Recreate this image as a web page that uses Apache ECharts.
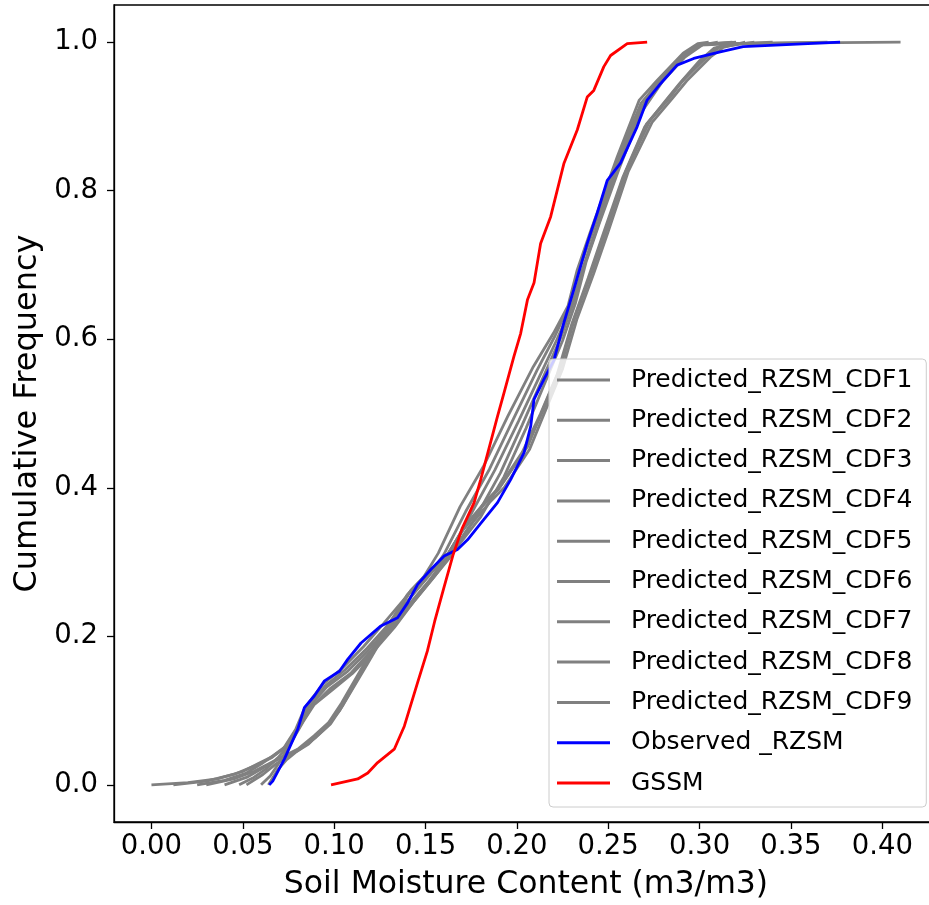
<!DOCTYPE html>
<html>
<head>
<meta charset="utf-8">
<script src="https://cdn.jsdelivr.net/npm/echarts@6/dist/echarts.min.js"></script>
<style>
  html, body { margin: 0; padding: 0; background: #fff; }
  #main { width: 929px; height: 905px; }
</style>
</head>
<body>
<div id="main"></div>
<script>
// CDF curves: [soil moisture, cumulative frequency]
var cdf1 = [[0.000,0.000],[0.020,0.003],[0.036,0.008],[0.050,0.018],[0.058,0.028],[0.066,0.038],[0.072,0.048],[0.079,0.075],[0.084,0.104],[0.094,0.136],[0.104,0.156],[0.116,0.186],[0.127,0.217],[0.138,0.249],[0.149,0.280],[0.157,0.312],[0.169,0.375],[0.182,0.430],[0.195,0.496],[0.209,0.563],[0.220,0.608],[0.228,0.645],[0.233,0.693],[0.240,0.743],[0.255,0.846],[0.267,0.922],[0.277,0.949],[0.291,0.985],[0.299,0.998],[0.305,1.000]];
var cdf2 = [[0.012,0.000],[0.030,0.005],[0.045,0.014],[0.057,0.026],[0.066,0.037],[0.073,0.050],[0.080,0.078],[0.085,0.106],[0.095,0.133],[0.106,0.155],[0.118,0.184],[0.129,0.214],[0.140,0.247],[0.151,0.279],[0.160,0.310],[0.172,0.368],[0.185,0.425],[0.198,0.492],[0.211,0.558],[0.221,0.605],[0.229,0.648],[0.235,0.700],[0.242,0.748],[0.256,0.846],[0.268,0.918],[0.279,0.950],[0.293,0.984],[0.301,0.997],[0.318,1.000]];
var cdf3 = [[0.025,0.000],[0.040,0.006],[0.052,0.016],[0.060,0.028],[0.067,0.040],[0.074,0.053],[0.081,0.080],[0.086,0.104],[0.096,0.132],[0.107,0.152],[0.119,0.182],[0.130,0.212],[0.141,0.243],[0.152,0.275],[0.162,0.308],[0.175,0.365],[0.188,0.424],[0.201,0.490],[0.213,0.553],[0.222,0.600],[0.230,0.645],[0.236,0.695],[0.243,0.745],[0.253,0.820],[0.264,0.895],[0.275,0.940],[0.288,0.975],[0.298,0.995],[0.310,1.000]];
var cdf4 = [[0.030,0.000],[0.045,0.008],[0.056,0.018],[0.064,0.028],[0.070,0.036],[0.075,0.042],[0.080,0.048],[0.089,0.066],[0.097,0.084],[0.104,0.110],[0.117,0.165],[0.126,0.203],[0.135,0.235],[0.142,0.262],[0.153,0.290],[0.162,0.310],[0.172,0.350],[0.183,0.382],[0.191,0.402],[0.206,0.456],[0.215,0.510],[0.224,0.563],[0.232,0.631],[0.241,0.690],[0.249,0.747],[0.260,0.828],[0.273,0.895],[0.284,0.926],[0.291,0.949],[0.304,0.980],[0.311,0.994],[0.322,0.998],[0.360,0.999],[0.410,1.000]];
var cdf5 = [[0.048,0.000],[0.056,0.010],[0.063,0.022],[0.069,0.036],[0.075,0.052],[0.082,0.082],[0.088,0.106],[0.098,0.130],[0.109,0.150],[0.120,0.180],[0.131,0.210],[0.142,0.242],[0.153,0.275],[0.163,0.305],[0.178,0.362],[0.191,0.420],[0.203,0.485],[0.215,0.552],[0.224,0.602],[0.231,0.650],[0.237,0.700],[0.244,0.750],[0.254,0.822],[0.266,0.900],[0.278,0.945],[0.290,0.978],[0.300,0.996],[0.340,1.000]];
var cdf6 = [[0.040,0.000],[0.052,0.010],[0.062,0.024],[0.069,0.034],[0.076,0.042],[0.082,0.050],[0.090,0.064],[0.098,0.082],[0.105,0.108],[0.118,0.162],[0.127,0.200],[0.136,0.232],[0.144,0.260],[0.154,0.288],[0.163,0.308],[0.174,0.348],[0.185,0.380],[0.193,0.400],[0.207,0.452],[0.216,0.506],[0.225,0.560],[0.233,0.628],[0.242,0.688],[0.250,0.745],[0.261,0.826],[0.274,0.892],[0.285,0.924],[0.293,0.948],[0.306,0.980],[0.313,0.993],[0.325,1.000]];
var cdf7 = [[0.052,0.000],[0.061,0.014],[0.068,0.028],[0.074,0.038],[0.080,0.046],[0.087,0.058],[0.095,0.076],[0.103,0.100],[0.115,0.152],[0.125,0.195],[0.134,0.230],[0.141,0.258],[0.152,0.286],[0.161,0.306],[0.171,0.345],[0.182,0.378],[0.190,0.398],[0.204,0.450],[0.214,0.502],[0.223,0.556],[0.231,0.625],[0.240,0.685],[0.248,0.742],[0.259,0.822],[0.271,0.890],[0.282,0.922],[0.290,0.946],[0.302,0.978],[0.310,0.993],[0.330,1.000]];
var cdf8 = [[0.060,0.000],[0.065,0.012],[0.070,0.030],[0.076,0.055],[0.083,0.085],[0.089,0.108],[0.099,0.128],[0.110,0.150],[0.121,0.178],[0.133,0.212],[0.143,0.245],[0.154,0.278],[0.164,0.310],[0.180,0.360],[0.193,0.415],[0.205,0.480],[0.216,0.545],[0.225,0.598],[0.232,0.648],[0.238,0.705],[0.245,0.755],[0.256,0.830],[0.268,0.905],[0.280,0.948],[0.292,0.980],[0.302,0.997],[0.320,1.000]];
var cdf9 = [[0.064,0.000],[0.069,0.020],[0.074,0.034],[0.079,0.044],[0.086,0.055],[0.093,0.072],[0.101,0.095],[0.113,0.145],[0.123,0.190],[0.133,0.228],[0.140,0.256],[0.151,0.284],[0.161,0.305],[0.170,0.342],[0.181,0.375],[0.189,0.396],[0.203,0.448],[0.213,0.500],[0.222,0.552],[0.230,0.620],[0.239,0.682],[0.247,0.740],[0.258,0.818],[0.270,0.886],[0.281,0.920],[0.289,0.944],[0.300,0.975],[0.308,0.992],[0.318,0.998],[0.370,1.000]];
var observed = [[0.0645,0.000],[0.0664,0.005],[0.0728,0.035],[0.0801,0.075],[0.0837,0.104],[0.0892,0.120],[0.0947,0.140],[0.1029,0.153],[0.1074,0.169],[0.1147,0.191],[0.1256,0.214],[0.1347,0.225],[0.1402,0.245],[0.1457,0.270],[0.1529,0.290],[0.1602,0.308],[0.1675,0.317],[0.1730,0.330],[0.1802,0.352],[0.1894,0.380],[0.1966,0.411],[0.2039,0.447],[0.2076,0.483],[0.2094,0.519],[0.2148,0.546],[0.2203,0.572],[0.2257,0.622],[0.2312,0.667],[0.2385,0.729],[0.2440,0.770],[0.2495,0.814],[0.2567,0.837],[0.2658,0.886],[0.2713,0.922],[0.2786,0.944],[0.2877,0.969],[0.2968,0.978],[0.3113,0.987],[0.3239,0.994],[0.3769,1.000]];
var gssm = [[0.0983,0.000],[0.1129,0.008],[0.1184,0.016],[0.1238,0.030],[0.1329,0.048],[0.1384,0.079],[0.1457,0.138],[0.1510,0.180],[0.1550,0.220],[0.1600,0.265],[0.1650,0.309],[0.1700,0.345],[0.1766,0.380],[0.1802,0.411],[0.1894,0.496],[0.1930,0.528],[0.1984,0.577],[0.2021,0.608],[0.2058,0.653],[0.2094,0.676],[0.2130,0.729],[0.2185,0.765],[0.2258,0.837],[0.2331,0.882],[0.2385,0.926],[0.2421,0.935],[0.2476,0.967],[0.2513,0.982],[0.2604,0.998],[0.2713,1.000]];

var predicted = [cdf1, cdf2, cdf3, cdf4, cdf5, cdf6, cdf7, cdf8, cdf9];
var xTicks = [0, 0.05, 0.10, 0.15, 0.20, 0.25, 0.30, 0.35, 0.40];
var yTicks = [0, 0.2, 0.4, 0.6, 0.8, 1.0];

var font = 'DejaVu Sans';
var series = predicted.map(function (d, i) {
    return {
        name: 'Predicted_RZSM_CDF' + (i + 1),
        type: 'line',
        data: d,
        showSymbol: false,
        color: '#808080',
        lineStyle: { width: 2.8 }
    };
});
series.push({ name: 'Observed _RZSM', type: 'line', data: observed, showSymbol: false, color: '#0000ff', lineStyle: { width: 2.8 } });
series.push({ name: 'GSSM', type: 'line', data: gssm, showSymbol: false, color: '#ff0000', lineStyle: { width: 2.8 } });

var chart = echarts.init(document.getElementById('main'));
chart.setOption({
    animation: false,
    backgroundColor: '#fff',
    textStyle: { fontFamily: font },
    grid: {
        left: 114, top: 5, width: 824, height: 817,
        show: true, borderColor: '#000', borderWidth: 1.3,
        outerBoundsMode: 'none'
    },
    legend: {
        orient: 'vertical',
        left: 549, top: 359,
        icon: 'rect',
        itemWidth: 53, itemHeight: 3,
        itemGap: 10.3,
        padding: [6, 14, 9, 8],
        selectedMode: false,
        backgroundColor: 'rgba(255,255,255,0.8)',
        borderColor: '#cccccc', borderWidth: 1, borderRadius: 4,
        textStyle: { fontFamily: font, fontSize: 25, color: '#000', lineHeight: 30, padding: [0, 0, 0, 16] }
    },
    xAxis: {
        type: 'value',
        min: -0.0205, max: 0.4305,
        name: 'Soil Moisture Content (m3/m3)',
        nameLocation: 'middle', nameGap: 47,
        nameTextStyle: { fontFamily: font, fontSize: 31.5, color: '#000' },
        axisLine: { show: true, onZero: false, lineStyle: { color: '#000', width: 1.3 } },
        axisTick: { show: true, length: 7, customValues: xTicks, lineStyle: { color: '#000', width: 1.3 } },
        axisLabel: {
            customValues: xTicks, margin: 11,
            fontFamily: font, fontSize: 27.5, color: '#000',
            formatter: function (v) { return v.toFixed(2); }
        },
        splitLine: { show: false }
    },
    yAxis: {
        type: 'value',
        min: -0.05, max: 1.05,
        name: 'Cumulative Frequency',
        nameLocation: 'middle', nameGap: 68,
        nameTextStyle: { fontFamily: font, fontSize: 32, color: '#000' },
        axisLine: { show: true, onZero: false, lineStyle: { color: '#000', width: 1.3 } },
        axisTick: { show: true, length: 7, customValues: yTicks, lineStyle: { color: '#000', width: 1.3 } },
        axisLabel: {
            customValues: yTicks, margin: 16,
            fontFamily: font, fontSize: 27.5, color: '#000',
            formatter: function (v) { return v.toFixed(1); }
        },
        splitLine: { show: false }
    },
    series: series
});
window.addEventListener('resize', function () {
    chart.resize();
});
</script>
</body>
</html>
